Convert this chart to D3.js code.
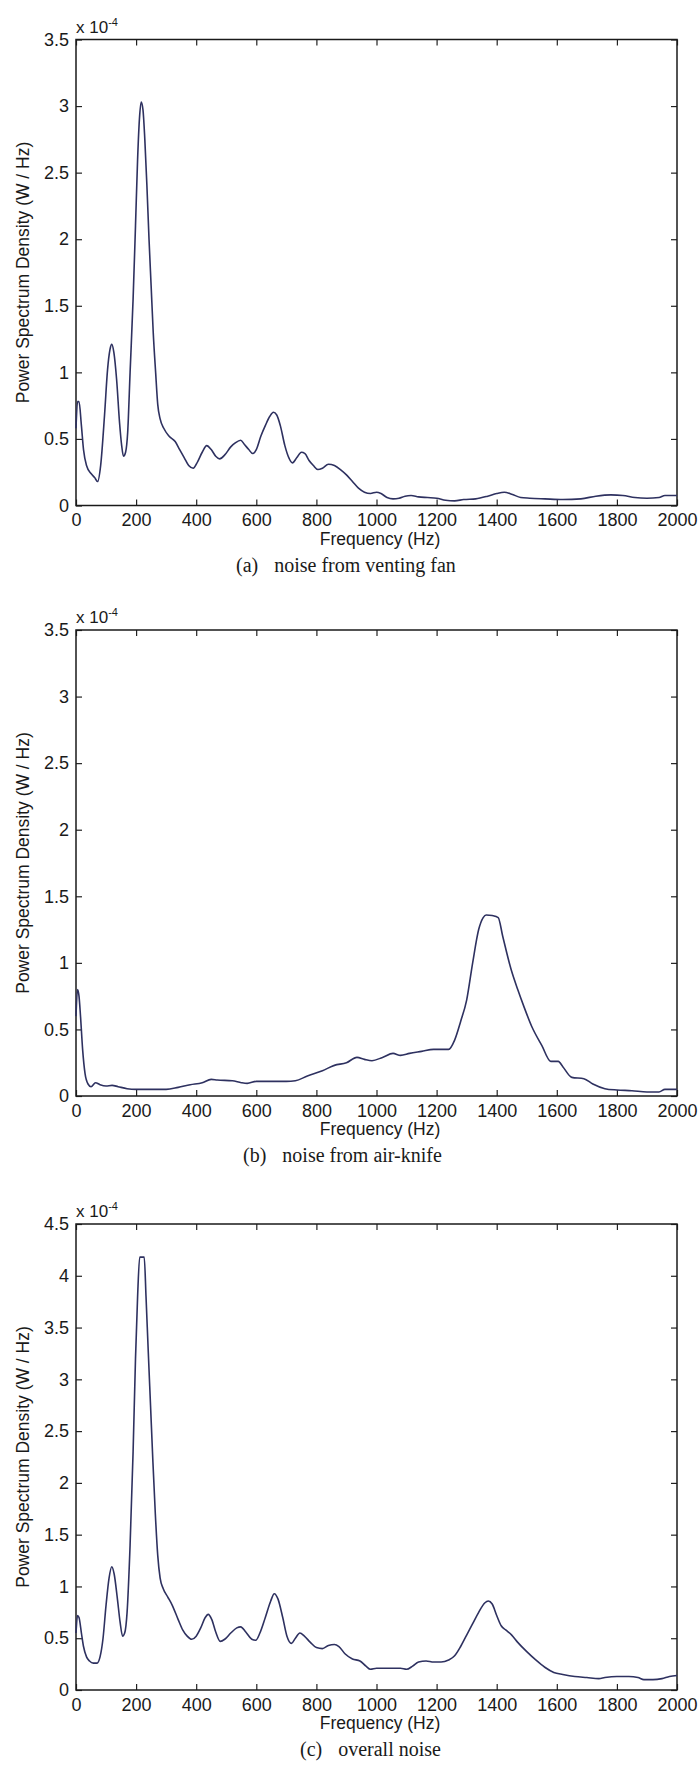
<!DOCTYPE html>
<html>
<head>
<meta charset="utf-8">
<style>
  body { margin: 0; background: #fff; }
  svg text { font-family: "Liberation Sans", Arial, sans-serif; fill: #1a1a1a; }
  .caption { font-family: "Liberation Serif", "Times New Roman", serif !important; font-size: 20px; }
</style>
</head>
<body>
<svg id="psd" width="700" height="1773"></svg>

<script src="https://d3js.org/d3.v7.min.js"></script>
<script>
  // frequency (Hz) / power spectrum density (x 1e-4 W/Hz)
  const freqA = [0, 5, 10, 18, 25, 35, 50, 62, 72, 82, 95, 105, 113, 119, 126, 135, 145, 152, 158, 165,
    172, 180, 190, 198, 205, 211, 217, 223, 229, 236, 243, 250, 257, 265, 272, 280, 292, 310, 330, 345,
    360, 375, 390, 405, 420, 435, 450, 465, 478, 495, 515, 530, 548, 560, 575, 588, 600, 615, 630, 645,
    657, 668, 680, 695, 710, 720, 735, 750, 762, 775, 790, 805, 820, 840, 860, 880, 900, 920, 940, 960,
    980, 1000, 1015, 1035, 1055, 1075, 1095, 1115, 1140, 1170, 1200, 1230, 1260, 1290, 1330, 1370, 1400,
    1425, 1450, 1480, 1510, 1560, 1620, 1680, 1730, 1780, 1820, 1860, 1900, 1940, 1960, 2000];
  const psdA = [0.58, 0.78, 0.78, 0.6, 0.42, 0.3, 0.24, 0.21, 0.18, 0.3, 0.68, 1.02, 1.17, 1.21, 1.15, 0.95, 0.62, 0.45, 0.37, 0.4,
    0.55, 1.0, 1.55, 2.1, 2.6, 2.9, 3.03, 2.97, 2.75, 2.4, 2.0, 1.65, 1.3, 1.0, 0.76, 0.65, 0.58, 0.52, 0.48, 0.42,
    0.36, 0.3, 0.28, 0.33, 0.4, 0.45, 0.42, 0.37, 0.35, 0.38, 0.44, 0.47, 0.49, 0.46, 0.42, 0.39, 0.42, 0.52, 0.6, 0.67,
    0.7, 0.68, 0.6, 0.45, 0.35, 0.32, 0.36, 0.4, 0.39, 0.34, 0.3, 0.27, 0.28, 0.31, 0.3, 0.27, 0.23, 0.18, 0.13, 0.1,
    0.09, 0.1, 0.09, 0.06, 0.05, 0.055, 0.07, 0.075, 0.065, 0.06, 0.055, 0.04, 0.035, 0.045, 0.05, 0.07, 0.09,
    0.1, 0.085, 0.06, 0.055, 0.05, 0.045, 0.05, 0.07, 0.08, 0.075, 0.06, 0.055, 0.06, 0.075, 0.075];

  const freqB = [0, 5, 10, 15, 22, 30, 40, 50, 65, 80, 100, 120, 140, 170, 200, 250, 300, 340, 380, 420,
    450, 470, 520, 550, 570, 600, 650, 700, 730, 770, 820, 860, 900, 935, 960, 985, 1020, 1055, 1080, 1110,
    1150, 1190, 1240, 1260, 1280, 1300, 1320, 1340, 1355, 1365, 1385, 1405, 1420, 1448, 1470, 1490, 1517, 1550, 1580, 1605,
    1620, 1650, 1690, 1720, 1760, 1800, 1850, 1900, 1940, 1960, 2000];
  const psdB = [0.6, 0.8, 0.75, 0.6, 0.35, 0.17, 0.09, 0.07, 0.1, 0.085, 0.075, 0.08, 0.07, 0.055, 0.05, 0.05, 0.05, 0.065, 0.085, 0.1,
    0.125, 0.12, 0.115, 0.1, 0.095, 0.11, 0.11, 0.11, 0.115, 0.15, 0.19, 0.23, 0.25, 0.29, 0.275, 0.265, 0.29, 0.32, 0.305, 0.32,
    0.335, 0.35, 0.35, 0.42, 0.56, 0.72, 1.0, 1.25, 1.34, 1.36, 1.355, 1.34, 1.2, 0.95, 0.8, 0.675, 0.52, 0.38, 0.26, 0.26,
    0.22, 0.14, 0.13, 0.09, 0.055, 0.045, 0.04, 0.03, 0.03, 0.05, 0.05];

  const freqC = [0, 5, 10, 18, 25, 35, 45, 58, 70, 80, 90, 100, 110, 119, 127, 137, 147, 155, 162, 170,
    180, 190, 198, 205, 212, 227, 233, 240, 248, 256, 264, 272, 280, 290, 305, 320, 340, 355, 370, 385,
    400, 415, 430, 440, 452, 465, 480, 495, 515, 535, 548, 565, 585, 598, 612, 630, 648, 660, 672, 688,
    702, 717, 730, 745, 760, 780, 800, 820, 840, 860, 875, 895, 920, 945, 965, 980, 1000, 1040, 1080, 1100,
    1120, 1140, 1165, 1190, 1215, 1240, 1260, 1280, 1300, 1320, 1340, 1360, 1372, 1385, 1400, 1415, 1430, 1450, 1470, 1500,
    1530, 1560, 1590, 1620, 1660, 1700, 1740, 1760, 1800, 1840, 1870, 1890, 1920, 1950, 1975, 2000];
  const psdC = [0.55, 0.72, 0.7, 0.55, 0.42, 0.32, 0.28, 0.26, 0.26, 0.32, 0.5, 0.82, 1.08, 1.19, 1.12, 0.9, 0.65, 0.52, 0.55, 0.75,
    1.4, 2.3, 3.2, 3.8, 4.18, 4.18, 3.8, 3.3, 2.75, 2.2, 1.7, 1.3, 1.08, 0.98, 0.9, 0.82, 0.68, 0.58, 0.52, 0.49,
    0.52, 0.6, 0.7, 0.73, 0.68, 0.56, 0.47, 0.49, 0.55, 0.6, 0.61, 0.56, 0.49, 0.48, 0.55, 0.7, 0.86, 0.93, 0.88, 0.7,
    0.52, 0.45, 0.5, 0.55, 0.52, 0.46, 0.41, 0.4, 0.43, 0.44, 0.42, 0.35, 0.3, 0.28, 0.23, 0.2, 0.21, 0.21, 0.21, 0.2,
    0.23, 0.27, 0.28, 0.27, 0.27, 0.29, 0.33, 0.42, 0.53, 0.64, 0.75, 0.84, 0.86, 0.83, 0.72, 0.62, 0.58, 0.53, 0.46, 0.37,
    0.29, 0.22, 0.17, 0.15, 0.13, 0.12, 0.11, 0.12, 0.13, 0.13, 0.12, 0.1, 0.1, 0.11, 0.13, 0.14];

  const xTicks = [0, 200, 400, 600, 800, 1000, 1200, 1400, 1600, 1800, 2000];
  const yTicksAB = [0, 0.5, 1, 1.5, 2, 2.5, 3, 3.5];
  const yTicksC = [0, 0.5, 1, 1.5, 2, 2.5, 3, 3.5, 4, 4.5];
  const captions = [["(a)", "noise from venting fan"], ["(b)", "noise from air-knife"], ["(c)", "overall noise"]];

  const panels = [
    { freq: freqA, psd: psdA, yTicks: yTicksAB, top: 39.5, capX: 236, caption: captions[0] },
    { freq: freqB, psd: psdB, yTicks: yTicksAB, top: 630, capX: 243, caption: captions[1] },
    { freq: freqC, psd: psdC, yTicks: yTicksC, top: 1224, capX: 300, caption: captions[2] }
  ];

  const left = 76, right = 677, plotH = 466;
  const fontSize = 18;
  const svg = d3.select('#psd');

  const xScale = d3.scaleLinear().domain([0, 2000]).range([left, right]);

  panels.forEach(p => {
    const bottom = p.top + plotH;
    const yMax = p.yTicks[p.yTicks.length - 1];
    const yScale = d3.scaleLinear().domain([0, yMax]).range([bottom, p.top]);
    const g = svg.append('g');

    // ticks on all four sides, pointing inward
    const fmt = d => String(+d.toFixed(1));
    g.append('g').attr('transform', `translate(0,${bottom})`)
      .call(d3.axisBottom(xScale).tickValues(xTicks).tickSizeInner(-6).tickSizeOuter(0).tickPadding(8).tickFormat(d3.format('d')));
    g.append('g').attr('transform', `translate(0,${p.top})`)
      .call(d3.axisTop(xScale).tickValues(xTicks).tickSizeInner(-6).tickSizeOuter(0).tickFormat(''));
    g.append('g').attr('transform', `translate(${left},0)`)
      .call(d3.axisLeft(yScale).tickValues(p.yTicks).tickSizeInner(-6).tickSizeOuter(0).tickPadding(7).tickFormat(fmt));
    g.append('g').attr('transform', `translate(${right},0)`)
      .call(d3.axisRight(yScale).tickValues(p.yTicks).tickSizeInner(-6).tickSizeOuter(0).tickFormat(''));

    g.selectAll('.domain').remove();
    g.selectAll('.tick line').attr('stroke', '#222').attr('stroke-width', 1.2);
    g.selectAll('.tick text').style('font-size', fontSize + 'px').attr('fill', '#1a1a1a');

    g.append('rect')
      .attr('x', left).attr('y', p.top)
      .attr('width', right - left).attr('height', plotH)
      .attr('fill', 'none').attr('stroke', '#1a1a1a').attr('stroke-width', 1.5);

    const line = d3.line()
      .x((d, i) => xScale(p.freq[i]))
      .y(d => yScale(d))
      .curve(d3.curveMonotoneX);

    g.append('path')
      .datum(p.psd)
      .attr('fill', 'none')
      .attr('stroke', '#2e3160')
      .attr('stroke-width', 1.6)
      .attr('d', line);

    // exponent label
    const ex = g.append('text').attr('x', left).attr('y', p.top - 7).style('font-size', '17px');
    ex.append('tspan').text('x 10');
    ex.append('tspan').attr('dy', -7).style('font-size', '11px').text('-4');

    // axis titles
    g.append('text')
      .attr('transform', `translate(29,${p.top + plotH / 2}) rotate(-90)`)
      .attr('text-anchor', 'middle')
      .style('font-size', '17.5px')
      .text('Power Spectrum Density (W / Hz)');

    g.append('text')
      .attr('x', 380).attr('y', bottom + 39)
      .attr('text-anchor', 'middle')
      .style('font-size', '17.5px')
      .text('Frequency (Hz)');

    const cap = g.append('text')
      .attr('class', 'caption')
      .attr('x', p.capX).attr('y', bottom + 66);
    cap.append('tspan').text(p.caption[0]);
    cap.append('tspan').attr('dx', 16).text(p.caption[1]);
  });
</script>
</body>
</html>
